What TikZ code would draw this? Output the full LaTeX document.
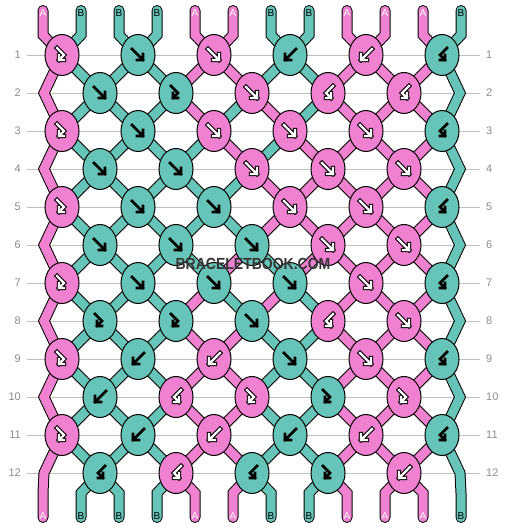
\documentclass[tikz,border=0pt]{standalone}
\usepackage{fontspec}
\setmainfont{Liberation Sans}
\usetikzlibrary{shapes.geometric,backgrounds}

\definecolor{strA}{RGB}{240,128,208}
\definecolor{strB}{RGB}{102,196,185}
\definecolor{guide}{RGB}{192,192,192}
\definecolor{numgray}{RGB}{140,140,140}
\definecolor{markgray}{RGB}{55,55,55}

% arrow glyphs drawn inside the knots:
\tikzset{
  pics/fw/.style={code={\draw (-6,-6) -- (5,5) (5,-1) -- (5,5) -- (-1,5);}},
  pics/bw/.style={code={\draw (6,-6) -- (-5,5) (-5,-1) -- (-5,5) -- (1,5);}},
  pics/fwbw/.style={code={\draw (-5,-7) -- (2,0) -- (-3,5) (-3,0) -- (-3,5) -- (2,5);}},
  pics/bwfw/.style={code={\draw (5,-7) -- (-2,0) -- (3,5) (3,0) -- (3,5) -- (-2,5);}},
  glyph dark/.style={black, line width=2.6, line join=miter, line cap=rect},
  glyph rim/.style={black, line width=4.4, line join=miter, line cap=rect},
  glyph light/.style={white, line width=2.2, line join=miter, line cap=rect}
}

% glyph: node, type, colour letter
\newcommand\knotglyph[3]{%
  \if#3A
    \pic[glyph rim] at (#1) {#2};
    \pic[glyph light] at (#1) {#2};
  \else
    \pic[glyph dark] at (#1) {#2};
  \fi}

% all strands, once as outline and once as colour:
\newcommand\strandpass[1]{%
  % edge strings:
  \draw[draw=strA, #1, strandend] (up-1) -- (bend-1)
    \foreach \r/\s in {1/2,3/4,5/6,7/8,9/10,11/12} { -- (k\r-1.center) -- (k\s-0) }
    -- (dbend-1) -- (down-1);
  \draw[draw=strB, #1, strandend] (up-12) -- (bend-12)
    \foreach \r/\s in {1/2,3/4,5/6,7/8,9/10,11/12} { -- (k\r-6.center) -- (k\s-6) }
    -- (dbend-12) -- (down-12);
  % loose ends at top and bottom:
  \foreach \c [count=\i] in {A,B,B,B,A,A,B,B,A,A,A,B} {
    \ifnum\i>1 \ifnum\i<12
      \pgfmathtruncatemacro\ka{ceil(\i/2)}
      \pgfmathtruncatemacro\kb{floor(\i/2)}
      \draw[draw=str\c, #1, strandend] (up-\i) -- (bend-\i) -- (k1-\ka.center);
      \draw[draw=str\c, #1, strandend] (k12-\kb.center) -- (dbend-\i) -- (down-\i);
    \fi\fi
  }
  % knot to knot:
  \foreach \r/\cols in {
      1/{A,B,B,B,A,A,B,B,A,A,A,B},
      2/{A,B,B,B,A,B,A,B,A,A,A,B},
      3/{A,B,B,B,B,A,B,A,A,A,A,B},
      4/{A,B,B,B,B,B,A,A,A,A,A,B},
      5/{A,B,B,B,B,B,A,A,A,A,A,B},
      6/{A,B,B,B,B,A,B,A,A,A,A,B},
      7/{A,B,B,B,A,B,A,B,A,A,A,B},
      8/{A,B,B,B,A,A,B,B,A,A,A,B},
      9/{A,B,B,B,A,A,B,B,A,A,A,B},
      10/{A,B,B,B,A,A,B,B,A,A,A,B},
      11/{A,B,B,B,A,A,B,B,A,A,A,B}} {
    \pgfmathtruncatemacro\s{\r+1}
    \foreach \c [count=\i] in \cols {
      \ifnum\i>1 \ifnum\i<12
        \pgfmathtruncatemacro\ka{isodd(\r) ? ceil(\i/2) : floor(\i/2)}
        \pgfmathtruncatemacro\kb{isodd(\r) ? floor(\i/2) : ceil(\i/2)}
        \draw[draw=str\c, #1] (k\r-\ka.center) -- (k\s-\kb.center);
      \fi\fi
    }
  }}

\begin{document}
\begin{tikzpicture}
  [x=1pt, y=-1pt,
   knotoval/.style={ellipse, draw=black, line width=1, minimum width=34, minimum height=41, inner sep=0},
   rim/.style={draw=black, line width=11},
   core/.style={line width=9},
   strandend/.style={line cap=round, line join=miter},
   rownum/.style={text=numgray, inner sep=0, font=\fontsize{11}{13}\selectfont},
   guide line/.style={draw=guide, line width=1},
   endlabel/.style={inner sep=0, font=\fontsize{10}{12}\selectfont},
   labA/.style={text=white},
   labB/.style={text=black},
   watermark/.style={text=markgray, font=\bfseries\fontsize{14}{16}\selectfont}]

  \useasboundingbox (0,0) rectangle (506,528);

  % knots, row by row:
  \foreach \r/\row in {
      1/{A/fwbw,B/fw,A/fw,B/bw,A/bw,B/bwfw},
      2/{B/fw,B/fwbw,A/fw,A/bwfw,A/bwfw},
      3/{A/fwbw,B/fw,A/fw,A/fw,A/fw,B/bwfw},
      4/{B/fw,B/fw,A/fw,A/fw,A/fw},
      5/{A/fwbw,B/fw,B/fw,A/fw,A/fw,B/bwfw},
      6/{B/fw,B/fw,B/fw,A/fw,A/fw},
      7/{A/fwbw,B/fw,B/fw,B/fw,A/fw,B/bwfw},
      8/{B/fwbw,B/fwbw,B/fw,A/bwfw,A/fw},
      9/{A/fwbw,B/bw,A/bw,B/fw,A/fw,B/bwfw},
      10/{B/bw,A/bwfw,A/fwbw,B/fwbw,A/fwbw},
      11/{A/fwbw,B/bw,A/bw,B/bw,A/bw,B/bwfw},
      12/{B/bwfw,A/bwfw,B/bwfw,B/fwbw,A/bw}} {
    \pgfmathsetmacro\y{17+38*\r}
    \foreach \c/\t [count=\k] in \row {
      \pgfmathsetmacro\x{isodd(\r) ? 62+76*(\k-1) : 100+76*(\k-1)}
      \node[knotoval, fill=str\c] (k\r-\k) at (\x, \y) {};
      \knotglyph{k\r-\k}{\t}{\c}
    }
  }

  % turning points of the edge strings:
  \foreach \r in {2,4,...,12} {
    \coordinate (k\r-0) at (44, 17+38*\r);
    \coordinate (k\r-6) at (460, 17+38*\r);
  }

  % loose ends:
  \foreach \c [count=\i] in {A,B,B,B,A,A,B,B,A,A,A,B} {
    \coordinate (up-\i) at (5+38*\i, 10.5);
    \coordinate (bend-\i) at (5+38*\i, 35);
    \coordinate (dbend-\i) at (5+38*\i, 493);
    \coordinate (down-\i) at (5+38*\i, 517.5);
  }

  \begin{scope}[on background layer]
    \fill[white] (0,0) rectangle (506,528);
    % row numbers and guides:
    \foreach \r in {1,...,12} {
      \node[rownum, anchor=east] (nl\r) at (21, 17+38*\r) {\r};
      \node[rownum, anchor=west] (nr\r) at (486, 17+38*\r) {\r};
      \draw[guide line] ([xshift=6]nl\r.east) -- ([xshift=-6]nr\r.west);
    }
    \strandpass{rim}
    \strandpass{core}
  \end{scope}

  % string letters:
  \foreach \c [count=\i] in {A,B,B,B,A,A,B,B,A,A,A,B} {
    \node[endlabel, lab\c] (lt-\i) at (5+38*\i, 13) {\c};
    \node[endlabel, lab\c] (lb-\i) at (5+38*\i, 516) {\c};
  }

  \node[watermark] (mark) at (253, 263.5) {\scalebox{1}[1.15]{BRACELETBOOK.COM}};

\end{tikzpicture}
\end{document}
